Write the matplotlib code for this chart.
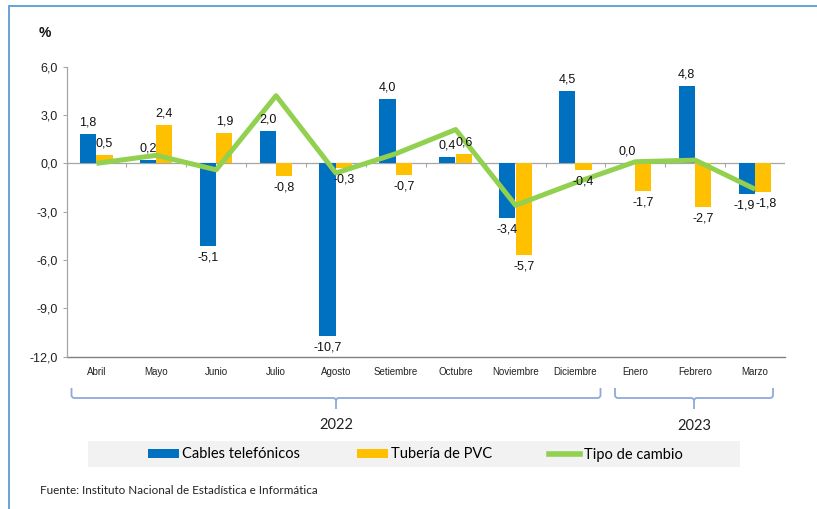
import matplotlib
matplotlib.use("Agg")
import matplotlib.pyplot as plt
from matplotlib.patches import Rectangle, Patch
from matplotlib.lines import Line2D
from matplotlib.path import Path
from matplotlib.patches import PathPatch
import matplotlib.transforms as mtransforms
import numpy as np

months = ['Abril', 'Mayo', 'Junio', 'Julio', 'Agosto', 'Setiembre', 'Octubre',
          'Noviembre', 'Diciembre', 'Enero', 'Febrero', 'Marzo']
cables = [1.8, 0.2, -5.1, 2.0, -10.7, 4.0, 0.4, -3.4, 4.5, 0.0, 4.8, -1.9]
pvc = [0.5, 2.4, 1.9, -0.8, -0.3, -0.7, 0.6, -5.7, -0.4, -1.7, -2.7, -1.8]
tipo_cambio = [0.0, 0.5, -0.4, 4.2, -0.6, 0.6, 2.1, -2.6, -1.2, 0.1, 0.2, -1.6]
yticks = [6, 3, 0, -3, -6, -9, -12]
years = ['2022', '2023']
series_names = ['Cables telefónicos', 'Tubería de PVC', 'Tipo de cambio']

BLUE = '#0070C0'
YELLOW = '#FFC000'
GREEN = '#92D050'
GRAY = '#A6A6A6'
BRACKET = '#8EA9DB'

W, H = 817, 509
fig = plt.figure(figsize=(W / 100, H / 100), dpi=100)

def fx(x):
    return x / W

def fy(y):
    return 1 - y / H

NARROW = ['Liberation Sans Narrow', 'Liberation Sans', 'DejaVu Sans']
SANS = ['Liberation Sans', 'DejaVu Sans']
CAL = ['Lato', 'DejaVu Sans']

ax = fig.add_axes([fx(66.5), fy(356.7), fx(785) - fx(66.5), (356.7 - 66.7) / H])
x = np.arange(len(months))
bw = 0.27
ax.bar(x - 0.14, cables, width=bw, color=BLUE, zorder=2)
ax.bar(x + 0.135, pvc, width=bw, color=YELLOW, zorder=2)
ax.plot(x, tipo_cambio, color=GREEN, lw=3.6, zorder=3, solid_capstyle='butt')

ax.set_xlim(-0.5, len(months) - 0.5)
ax.set_ylim(-12, 6)
ax.set_yticks(yticks)
ax.set_yticklabels([f"{v:.1f}".replace('.', ',') for v in yticks],
                   fontfamily=SANS, fontsize=9, color='#222222')
ax.tick_params(axis='y', length=3, color=GRAY, width=0.8, pad=3)
ax.set_xticks([])
for s in ['top', 'right', 'bottom']:
    ax.spines[s].set_visible(False)
ax.spines['left'].set_color(GRAY)
ax.spines['left'].set_linewidth(0.9)
ax.axhline(0, color=GRAY, lw=0.9, zorder=1)
ax.axhline(-12, color='#808080', lw=1.0, zorder=1, clip_on=False)
# category separator ticks on zero line
ax.vlines(np.arange(len(months) - 1) + 0.5, -0.2, 0, color=GRAY, lw=0.8, zorder=1)

# month labels
trans = mtransforms.blended_transform_factory(ax.transData, ax.transAxes)
for i, m in enumerate(months):
    ax.text(i, -0.052, m, transform=trans, ha='center', va='center',
            fontsize=7, fontfamily=NARROW, color='#222222')

def fmt(v):
    return f"{v:.1f}".replace('.', ',')

def label(xpos, v, dx=0):
    if v >= 0:
        ax.annotate(fmt(v), (xpos, v), xytext=(dx, 4), textcoords='offset points',
                    ha='center', va='bottom', fontsize=9, fontfamily=NARROW,
                    color='#111111', zorder=5)
    else:
        ax.annotate(fmt(v), (xpos, v), xytext=(dx, -4), textcoords='offset points',
                    ha='center', va='top', fontsize=9, fontfamily=NARROW,
                    color='#111111', zorder=5)

for i in range(len(months)):
    nudge = 2.0 if (cables[i] < 0 and pvc[i] < 0 and i == len(months) - 1) else 0
    label(x[i] - 0.14, cables[i], -nudge)
    label(x[i] + 0.135, pvc[i], nudge)

# brackets
def bracket(x0, x1, xc, ytop=388, ybar=398, ybot=409, r=3):
    verts = [
        (x0, ytop), (x0, ybar - r), (x0, ybar), (x0 + r, ybar),
        (xc - r, ybar), (xc, ybar), (xc, ybar + r), (xc, ybot),
        (xc, ybar + r), (xc, ybar), (xc + r, ybar),
        (x1 - r, ybar), (x1, ybar), (x1, ybar - r), (x1, ytop)]
    codes = [Path.MOVETO, Path.LINETO, Path.CURVE3, Path.CURVE3,
             Path.LINETO, Path.CURVE3, Path.CURVE3, Path.LINETO,
             Path.MOVETO, Path.CURVE3, Path.CURVE3,
             Path.LINETO, Path.CURVE3, Path.CURVE3, Path.LINETO]
    v = [(fx(a), fy(b)) for a, b in verts]
    fig.add_artist(PathPatch(Path(v, codes), transform=fig.transFigure,
                             fill=False, edgecolor=BRACKET, lw=1.3))

bracket(71.5, 600.5, 336)
bracket(615, 773, 694)
fig.text(fx(336), fy(425), years[0], ha='center', va='center', fontsize=10.5,
         fontfamily=CAL, color='#222222')
fig.text(fx(694), fy(426.5), years[1], ha='center', va='center', fontsize=10.5,
         fontfamily=CAL, color='#222222')

# legend background
fig.add_artist(Rectangle((fx(88), fy(467.3)), fx(740) - fx(88), (467.3 - 440.7) / H,
                         transform=fig.transFigure, facecolor='#F2F2F2',
                         edgecolor='none', zorder=0))
handles = [Patch(facecolor=BLUE), Patch(facecolor=YELLOW),
           Line2D([], [], color=GREEN, lw=4)]
fig.legend(handles, series_names, loc='center left',
           bbox_to_anchor=(fx(148), fy(454.5)), ncol=3, frameon=False,
           prop={'family': CAL, 'size': 10.5}, handlelength=2.1, handleheight=0.55,
           handletextpad=0.25, columnspacing=3.9, borderpad=0, borderaxespad=0)

fig.text(fx(45), fy(33), '%', ha='center', va='center', fontsize=10,
         fontfamily=SANS, color='#111111', fontweight='bold')
fig.text(fx(40), fy(491), 'Fuente: Instituto Nacional de Estadística e Informática',
         ha='left', va='center', fontsize=8.4, fontfamily=CAL, color='#222222')

# outer frame
fig.add_artist(Rectangle((fx(8.5), fy(560)), 1, (560 - 5.5) / H,
                         transform=fig.transFigure, fill=False,
                         edgecolor='#5B9BD5', lw=1.3))

fig.savefig('out.png', dpi=100)
